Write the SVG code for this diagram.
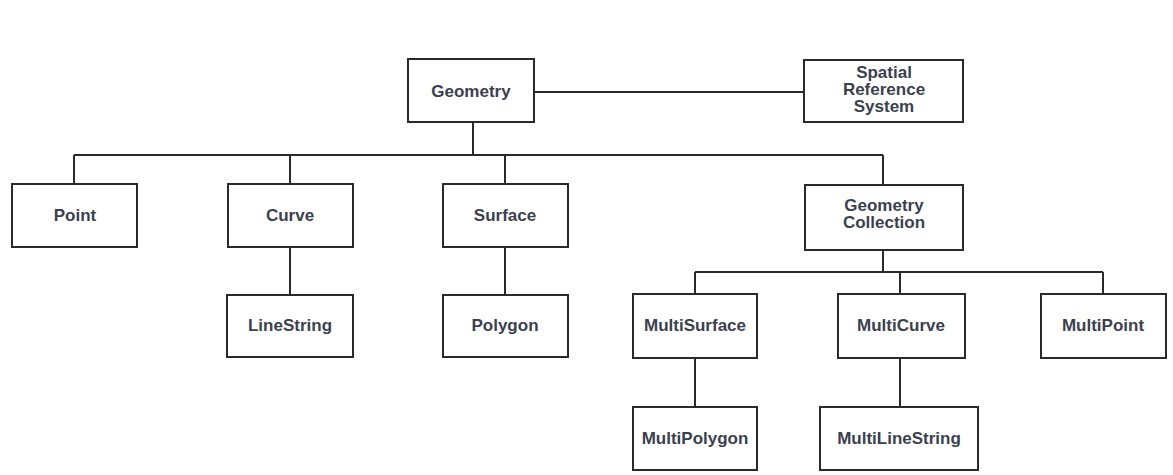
<svg xmlns="http://www.w3.org/2000/svg" width="1173" height="475" viewBox="0 0 1173 475">
<style>
.box{fill:#fff;stroke:#2a2a2a;stroke-width:2}
.ln{fill:none;stroke:#2a2a2a;stroke-width:2}
text{font-family:"Liberation Sans",Arial,sans-serif;font-weight:bold;font-size:17px;fill:#3b3f4e;text-anchor:middle}
</style>
<rect width="1173" height="475" fill="#fff"/>
<g id="connectors">
<path class="ln" d="M534 92H804"/>
<path class="ln" d="M473 122V155M74 155H883M74 155V184M290 155V184M505 155V184M883 155V185"/>
<path class="ln" d="M290 247V295M505 247V295"/>
<path class="ln" d="M883 250V272M695 272H1103M695 272V294M900 272V294M1103 272V294"/>
<path class="ln" d="M695 358V407M900 358V407"/>
</g>
<g id="geometry"><rect class="box" x="408" y="59" width="126" height="63"/><text x="471" y="97">Geometry</text></g>
<g id="srs"><rect class="box" x="804" y="60" width="159" height="62"/><text x="884" y="78">Spatial</text><text x="884" y="95">Reference</text><text x="884" y="112">System</text></g>
<g id="point"><rect class="box" x="12" y="184" width="125" height="63"/><text x="75" y="221">Point</text></g>
<g id="curve"><rect class="box" x="228" y="184" width="125" height="63"/><text x="290" y="221">Curve</text></g>
<g id="surface"><rect class="box" x="443" y="184" width="125" height="63"/><text x="505" y="221">Surface</text></g>
<g id="geometrycollection"><rect class="box" x="805" y="185" width="158" height="65"/><text x="884" y="211">Geometry</text><text x="884" y="228">Collection</text></g>
<g id="linestring"><rect class="box" x="227" y="295" width="126" height="62"/><text x="290" y="331">LineString</text></g>
<g id="polygon"><rect class="box" x="443" y="295" width="125" height="62"/><text x="505" y="331">Polygon</text></g>
<g id="multisurface"><rect class="box" x="633" y="294" width="124" height="64"/><text x="695" y="331">MultiSurface</text></g>
<g id="multicurve"><rect class="box" x="838" y="294" width="127" height="64"/><text x="901" y="331">MultiCurve</text></g>
<g id="multipoint"><rect class="box" x="1041" y="294" width="125" height="64"/><text x="1103" y="331">MultiPoint</text></g>
<g id="multipolygon"><rect class="box" x="633" y="407" width="124" height="63"/><text x="695" y="444">MultiPolygon</text></g>
<g id="multilinestring"><rect class="box" x="820" y="407" width="158" height="63"/><text x="899" y="444">MultiLineString</text></g>
</svg>
